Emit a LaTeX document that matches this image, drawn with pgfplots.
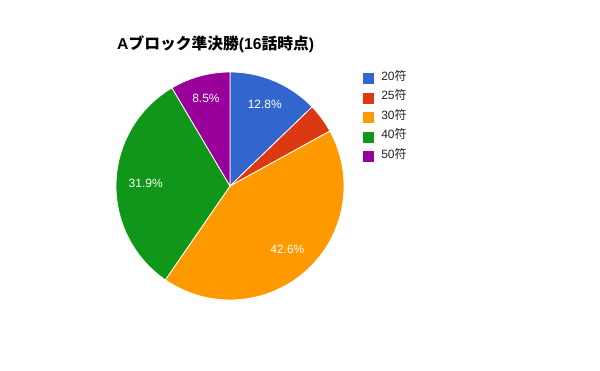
\documentclass[border=0pt]{standalone}
\usepackage{fontspec}
\setmainfont{Liberation Sans}
\newfontfamily\cjk{Noto Sans CJK JP}
\usepackage{pgfplots}
\pgfplotsset{compat=1.18}
\definecolor{cA}{HTML}{3366CC}
\definecolor{cB}{HTML}{DC3912}
\definecolor{cC}{HTML}{FF9900}
\definecolor{cD}{HTML}{109618}
\definecolor{cE}{HTML}{990099}
\definecolor{txt}{HTML}{222222}
% shares in percent (clockwise from top)
\def\vA{12.8}\def\vB{4.2}\def\vC{42.6}\def\vD{31.9}\def\vE{8.5}
\begin{document}
\begin{tikzpicture}
\path[use as bounding box, fill=white] (0,0) rectangle (600bp,371bp);
\pgfmathsetmacro\aO{90}
\pgfmathsetmacro\aA{\aO-3.6*\vA}
\pgfmathsetmacro\aB{\aA-3.6*\vB}
\pgfmathsetmacro\aC{\aB-3.6*\vC}
\pgfmathsetmacro\aD{\aC-3.6*\vD}
\pgfmathsetmacro\aE{\aD-3.6*\vE}
\node[anchor=base west, inner sep=0pt, font=\fontsize{15.75bp}{18bp}\selectfont\bfseries, text=black] at (117bp,321bp) {A{\cjk\bfseries ブロック準決勝}(16{\cjk\bfseries 話時点})};
\begin{axis}[at={(230bp,185bp)}, anchor=center, width=228bp, height=228bp, scale only axis,
  hide axis, xmin=-1, xmax=1, ymin=-1, ymax=1, clip=false,
  legend style={at={(1.083,1.004)}, anchor=north west, draw=none, fill=none, inner sep=0pt, outer sep=0pt,
    font=\fontsize{12bp}{14bp}\selectfont, text=txt, row sep=6.5bp, column sep=0pt,
    nodes={inner sep=0pt, outer sep=0pt, text height=9bp, text depth=3.5bp, anchor=base west}},
  legend cell align=left,
  legend image code/.code={\fill[#1, draw=none] (0bp,-4bp) rectangle (11bp,7bp); \path (18bp,0bp);},
]
\addplot[fill=cA, draw=white, line width=0.8bp, domain=\aA:\aO, samples=60] ({cos(x)},{sin(x)}) -- (axis cs:0,0) -- cycle;
\addlegendentry{20{\cjk 符}}
\addplot[fill=cB, draw=white, line width=0.8bp, domain=\aB:\aA, samples=30] ({cos(x)},{sin(x)}) -- (axis cs:0,0) -- cycle;
\addlegendentry{25{\cjk 符}}
\addplot[fill=cC, draw=white, line width=0.8bp, domain=\aC:\aB, samples=120] ({cos(x)},{sin(x)}) -- (axis cs:0,0) -- cycle;
\addlegendentry{30{\cjk 符}}
\addplot[fill=cD, draw=white, line width=0.8bp, domain=\aD:\aC, samples=100] ({cos(x)},{sin(x)}) -- (axis cs:0,0) -- cycle;
\addlegendentry{40{\cjk 符}}
\addplot[fill=cE, draw=white, line width=0.8bp, domain=\aE:\aD, samples=40] ({cos(x)},{sin(x)}) -- (axis cs:0,0) -- cycle;
\addlegendentry{50{\cjk 符}}
\pgfmathsetmacro\mA{(\aO+\aA)/2}
\pgfmathsetmacro\mC{(\aB+\aC)/2}
\pgfmathsetmacro\mD{(\aC+\aD)/2}
\pgfmathsetmacro\mE{(\aD+\aE)/2}
\begin{scope}[every node/.style={text=white, font=\fontsize{12bp}{14bp}\selectfont, inner sep=0pt}]
\node at (axis cs:{0.78*cos(\mA)},{0.78*sin(\mA)}) {12.8\%};
\node at (axis cs:{0.75*cos(\mC)},{0.75*sin(\mC)}) {42.6\%};
\node at (axis cs:{0.74*cos(\mD)},{0.74*sin(\mD)}) {31.9\%};
\node at (axis cs:{0.80*cos(\mE)},{0.80*sin(\mE)}) {8.5\%};
\end{scope}
\end{axis}
\end{tikzpicture}
\end{document}
